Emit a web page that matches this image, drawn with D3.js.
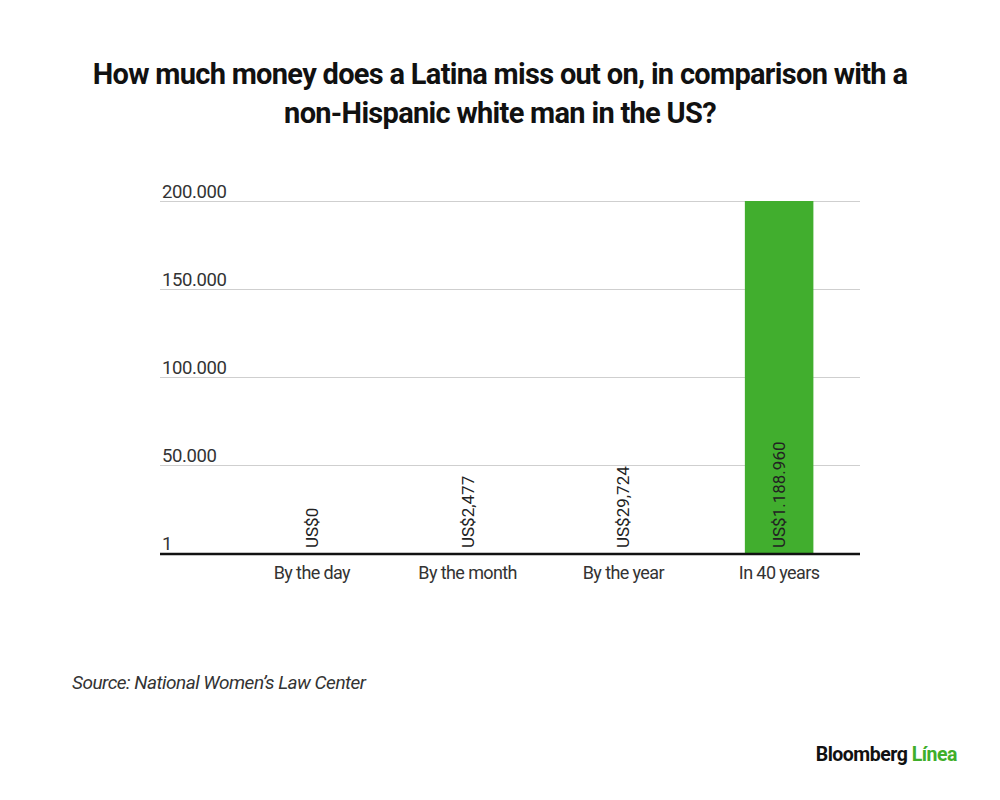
<!DOCTYPE html>
<html>
<head>
<meta charset="utf-8">
<script src="https://cdn.jsdelivr.net/npm/d3@7"></script>
<style>
  body { margin: 0; background: #fff; }
  text { font-family: Roboto, "Liberation Sans", sans-serif; }
</style>
</head>
<body>
<div id="chart"></div>
<script>
// data
var categories = ["By the day", "By the month", "By the year", "In 40 years"];
// bar heights as they show in the source (the first three have no visible bar)
var barValues = [0, 0, 0, 1188960];
var valueLabels = ["US$0", "US$2,477", "US$29,724", "US$1.188.960"];
var tickValues = [0, 50000, 100000, 150000, 200000];
var tickLabels = ["1", "50.000", "100.000", "150.000", "200.000"];

var width = 1000, height = 800;
var plotLeft = 160, plotRight = 860, plotTop = 201, plotBottom = 553;

var svg = d3.select("#chart")
  .append("svg")
  .attr("width", width)
  .attr("height", height);

// title
var title = svg.append("text")
  .attr("text-anchor", "middle")
  .style("font-size", "29px")
  .style("font-weight", 700)
  .style("letter-spacing", "-0.7px")
  .style("fill", "#111");
title.append("tspan").attr("x", 500).attr("y", 84)
  .text("How much money does a Latina miss out on, in comparison with a");
title.append("tspan").attr("x", 500).attr("y", 123)
  .text("non-Hispanic white man in the US?");

var y = d3.scaleLinear()
  .domain([0, 200000])
  .range([plotBottom, plotTop]);

var x = d3.scaleBand()
  .domain(categories)
  .range([234, 857])
  .paddingInner(0.56)
  .paddingOuter(0.28);

// gridlines + tick labels
var yAxis = svg.append("g")
  .attr("transform", "translate(" + plotLeft + ",0)")
  .call(d3.axisRight(y)
    .tickValues(tickValues)
    .tickSize(plotRight - plotLeft)
    .tickFormat(function(d, i) { return tickLabels[i]; }));
yAxis.select(".domain").remove();
yAxis.selectAll(".tick line").attr("stroke", "#cfcfcf");
yAxis.selectAll(".tick text")
  .attr("x", 2)
  .attr("dy", -4)
  .attr("text-anchor", "start")
  .style("font-size", "18.5px")
  .style("letter-spacing", "-0.4px")
  .style("fill", "#333");

// bars (clipped at the top of the axis)
svg.selectAll(".bar")
  .data(barValues)
  .enter().append("rect")
  .attr("class", "bar")
  .attr("x", function(d, i) { return x(categories[i]); })
  .attr("width", x.bandwidth())
  .attr("y", function(d) { return y(Math.min(d, 200000)); })
  .attr("height", function(d) { return plotBottom - y(Math.min(d, 200000)); })
  .style("fill", "#41ae2e");

// value labels, rotated
svg.selectAll(".vlabel")
  .data(valueLabels)
  .enter().append("text")
  .attr("class", "vlabel")
  .attr("transform", function(d, i) {
    return "translate(" + (x(categories[i]) + x.bandwidth() / 2 + 6) + "," + (plotBottom - 5) + ") rotate(-90)";
  })
  .attr("text-anchor", "start")
  .style("font-size", "17px")
  .style("fill", "#222")
  .text(function(d) { return d; });

// baseline
svg.append("line")
  .attr("x1", plotLeft).attr("x2", plotRight)
  .attr("y1", plotBottom + 1).attr("y2", plotBottom + 1)
  .attr("stroke", "#111")
  .attr("stroke-width", 2.5);

// category labels
var xAxis = svg.append("g")
  .attr("transform", "translate(0," + plotBottom + ")")
  .call(d3.axisBottom(x).tickSize(0));
xAxis.select(".domain").remove();
xAxis.selectAll(".tick text")
  .attr("dy", 0)
  .attr("y", 26)
  .style("font-size", "18px")
  .style("letter-spacing", "-0.6px")
  .style("fill", "#333");

// source
svg.append("text")
  .attr("x", 72).attr("y", 689)
  .style("font-size", "19px")
  .style("font-style", "italic")
  .style("letter-spacing", "-0.5px")
  .style("fill", "#333")
  .text("Source: National Women\u2019s Law Center");

// logo
var logo = svg.append("text")
  .attr("x", 957).attr("y", 761)
  .attr("text-anchor", "end")
  .style("font-size", "19.5px")
  .style("font-weight", 700)
  .style("letter-spacing", "-0.5px")
  .style("fill", "#111");
logo.append("tspan").text("Bloomberg ");
logo.append("tspan").style("fill", "#3fae2a").text("L\u00ednea");
</script>
</body>
</html>
